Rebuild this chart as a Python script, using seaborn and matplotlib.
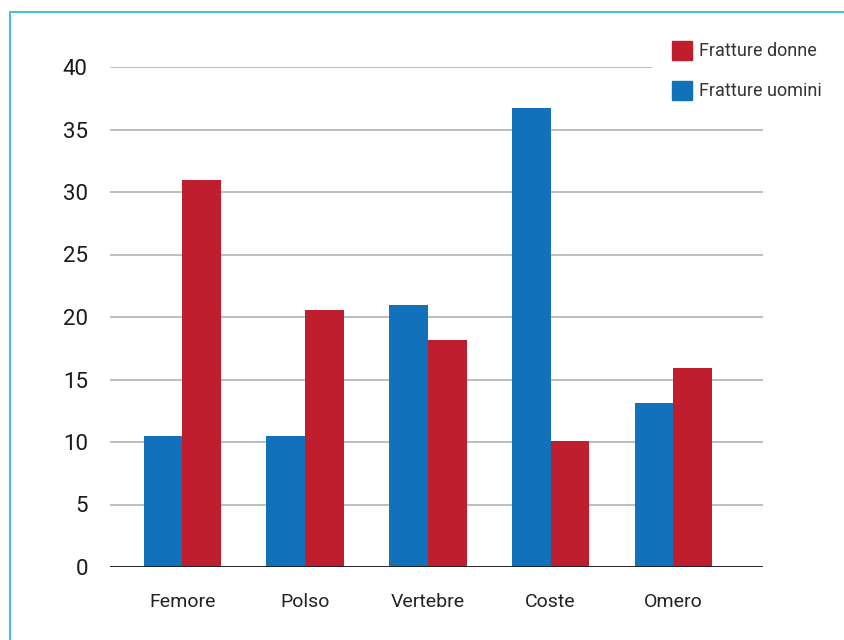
import matplotlib
matplotlib.use("Agg")
import matplotlib.pyplot as plt
from matplotlib.patches import Rectangle
import pandas as pd
import seaborn as sns

# dati
categorie = ["Femore", "Polso", "Vertebre", "Coste", "Omero"]
uomini = [10.5, 10.5, 21.0, 36.7, 13.1]
donne = [31.0, 20.6, 18.2, 10.1, 15.9]
serie = ["Fratture uomini", "Fratture donne"]
y_ticks = [0, 5, 10, 15, 20, 25, 30, 35, 40]

BLU = "#1172bb"
ROSSO = "#be1e2d"

df = pd.DataFrame({
    "Sede": categorie * 2,
    "Valore": uomini + donne,
    "Serie": [serie[0]] * len(categorie) + [serie[1]] * len(categorie),
})

sns.set_theme(style="white")
plt.rcParams["font.family"] = ["Roboto", "DejaVu Sans"]

fig = plt.figure(figsize=(8.45, 6.4), dpi=100)
ax = fig.add_axes([110 / 845, 1 - 567 / 640, 653 / 845, 500 / 640])

sns.barplot(data=df, x="Sede", y="Valore", hue="Serie", hue_order=serie,
            palette=[BLU, ROSSO], width=0.63, saturation=1, ax=ax,
            legend=False, zorder=3, linewidth=0)

ax.set_xlim(-0.59, 4.73)
ax.set_ylim(0, 40)
ax.set_yticks(y_ticks)
ax.set_xlabel("")
ax.set_ylabel("")
for s in ax.spines.values():
    s.set_visible(False)

# griglia (la linea del 40 si ferma prima della legenda)
for t in y_ticks[1:]:
    xmax = (652 - 110) / 653 if t == 40 else 1
    ax.axhline(t, xmin=0, xmax=xmax, color="#b3b3b3", lw=1.2, zorder=1)
ax.axhline(0, color="#222222", lw=1.4, zorder=4)

ax.tick_params(axis="y", length=0, pad=16, labelsize=16, labelcolor="#1a1a1a")
ax.tick_params(axis="x", length=0, pad=19, labelsize=14, labelcolor="#222222")

# legenda manuale
for i, (nome, col) in enumerate([(serie[1], ROSSO), (serie[0], BLU)]):
    y = 1 - (51 + 40 * i) / 640
    fig.patches.append(Rectangle((672 / 845, y - 9 / 640), 20 / 845, 19 / 640,
                                 transform=fig.transFigure, color=col))
    fig.text(699 / 845, y, nome, fontsize=13, color="#333333", va="center")

# cornice
fig.patches.append(Rectangle((10 / 845, -0.1), 1.0, 1 - 12 / 640 + 0.1,
                             transform=fig.transFigure, fill=False,
                             edgecolor="#45c3dc", lw=1.5))

fig.savefig("out.png", dpi=100)
